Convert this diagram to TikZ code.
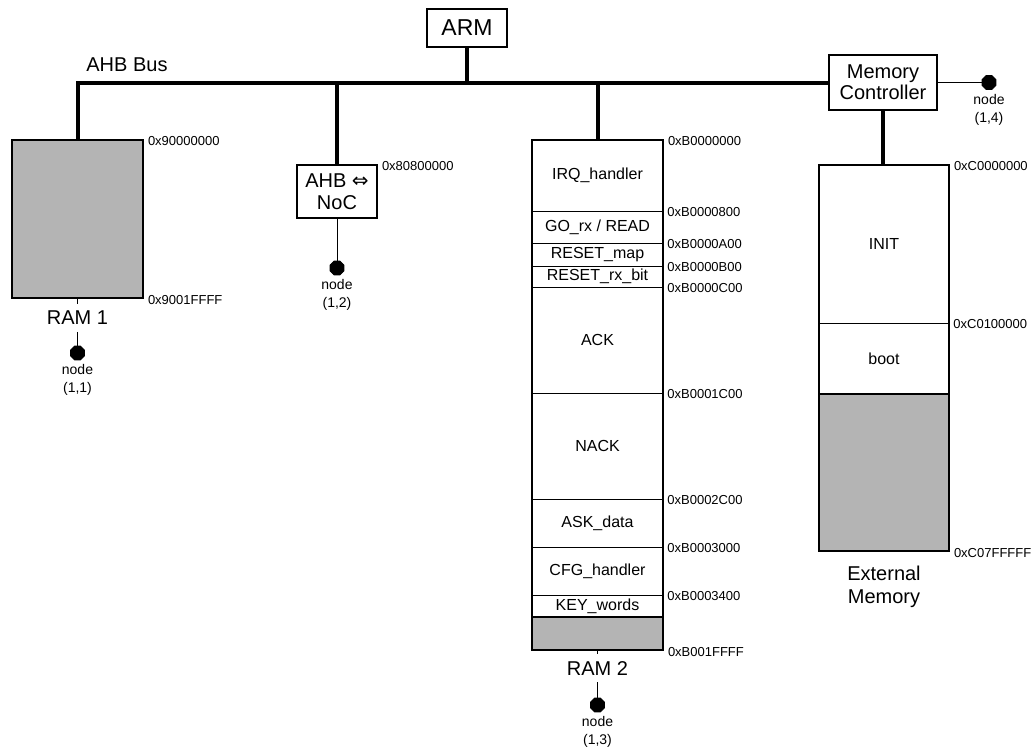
\documentclass[tikz,border=0pt]{standalone}
\usepackage{fontspec}
\setmainfont{Liberation Sans}
\newfontfamily\symfont{DejaVu Sans}
\usepackage{tikz}
\usetikzlibrary{shapes.geometric, positioning}

\definecolor{memgray}{RGB}{180,180,180}

\tikzset{
  box/.style={draw, rectangle, line width=0.6pt, inner sep=0pt, align=center, font=\fontsize{10}{10.5}\selectfont},
  bus/.style={line width=2pt},
  wire/.style={line width=0.5pt},
  seg/.style={font=\fontsize{8}{9}\selectfont},
  addr/.style={anchor=west, inner sep=0pt, xshift=2pt, yshift=-0.6pt, font=\fontsize{6.5}{8}\selectfont},
  lbl/.style={align=center, font=\fontsize{10}{11.5}\selectfont},
  tile/.style={draw, fill=black, regular polygon, regular polygon sides=8, minimum size=7.5pt, inner sep=0pt},
  tiletxt/.style={align=center, inner sep=0pt, font=\fontsize{7}{9}\selectfont}
}

\begin{document}
\begin{tikzpicture}[x=0.5pt, y=-0.5pt]
\useasboundingbox (0,0) rectangle (1033,752);

% ARM and AHB bus
\node[box, minimum width=40pt, minimum height=19pt, font=\fontsize{11.5}{12}\selectfont] (arm) at (467,28) {ARM};
\node[box, minimum width=54pt, minimum height=27.5pt] (mc) at (883,82.5) {Memory\\Controller};
\node[lbl, anchor=west, inner sep=0pt] (busname) at (86,65) {AHB Bus};

% RAM 1
\node[box, fill=memgray, minimum width=65.5pt, minimum height=79pt] (ram1) at (77.5,219) {};
\node[addr] at (ram1.north east) {0x90000000};
\node[addr] at (ram1.south east) {0x9001FFFF};
\node[lbl] (ram1name) at (77.5,318) {RAM 1};
\node[tile] (t11) at (77.5,353) {};
\node[tiletxt, below=2pt of t11] {node\\(1,1)};

% AHB <-> NoC bridge
\node[box, minimum width=40pt, minimum height=26.5pt, font=\fontsize{10}{11}\selectfont] (noc) at (337,191.5) {AHB {\symfont\fontsize{10}{10}\selectfont ⇔}\\NoC};
\node[addr] at (noc.north east) {0x80800000};
\node[tile] (t12) at (337,268) {};
\node[tiletxt, below=2pt of t12] {node\\(1,2)};

% RAM 2
\node[box, minimum width=65.5pt, minimum height=255pt] (ram2) at (597.5,395) {};
\draw[fill=memgray, line width=0.6pt] (532,617) rectangle (663,650);
\foreach \y/\a in {211/0xB0000800, 243/0xB0000A00, 266/0xB0000B00, 287/0xB0000C00,
                   393/0xB0001C00, 499/0xB0002C00, 547/0xB0003000, 595/0xB0003400}
{
  \draw[wire] (532,\y) -- (663,\y);
  \node[addr] at (663,\y) {\a};
}
\foreach \y/\s in {175.5/IRQ\_handler, 227/{GO\_rx / READ}, 254.5/RESET\_map, 276.5/RESET\_rx\_bit,
                   340/ACK, 446/NACK, 523/ASK\_data, 571/CFG\_handler, 606/KEY\_words}
  \node[seg] at (597.5,\y) {\s};
\node[addr] at (ram2.north east) {0xB0000000};
\node[addr] at (ram2.south east) {0xB001FFFF};
\node[lbl] (ram2name) at (597.5,668) {RAM 2};
\node[tile] (t13) at (597.5,705) {};
\node[tiletxt, below=2pt of t13] {node\\(1,3)};

% external memory
\node[box, minimum width=65pt, minimum height=193pt] (ext) at (884,358) {};
\draw[fill=memgray, line width=0.6pt] (819,394) rectangle (949,551);
\draw[wire] (819,323) -- (949,323);
\node[seg] at (884,244) {INIT};
\node[seg] at (884,358.5) {boot};
\node[addr] at (ext.north east) {0xC0000000};
\node[addr] at (949,323) {0xC0100000};
\node[addr] at (ext.south east) {0xC07FFFFF};
\node[lbl] (extname) at (884,586.5) {External\\Memory};
\node[tile] (t14) at (989,82.5) {};
\node[tiletxt, below=2pt of t14] {node\\(1,4)};

% connections
\draw[bus] (ram1.north) |- (mc.west);
\draw[bus] (arm.south) -- (arm.south |- mc.west);
\draw[bus] (noc.north) -- (noc.north |- mc.west);
\draw[bus] (ram2.north) -- (ram2.north |- mc.west);
\draw[bus] (mc.south) -- (mc.south |- ext.north);
\draw[wire] (mc.east) -- (t14);
\draw[wire] (noc.south) -- (t12);
\draw[wire] (ram1) -- (ram1name);
\draw[wire] (ram1name) -- (t11);
\draw[wire] (ram2) -- (ram2name);
\draw[wire] (ram2name) -- (t13);
\end{tikzpicture}
\end{document}
